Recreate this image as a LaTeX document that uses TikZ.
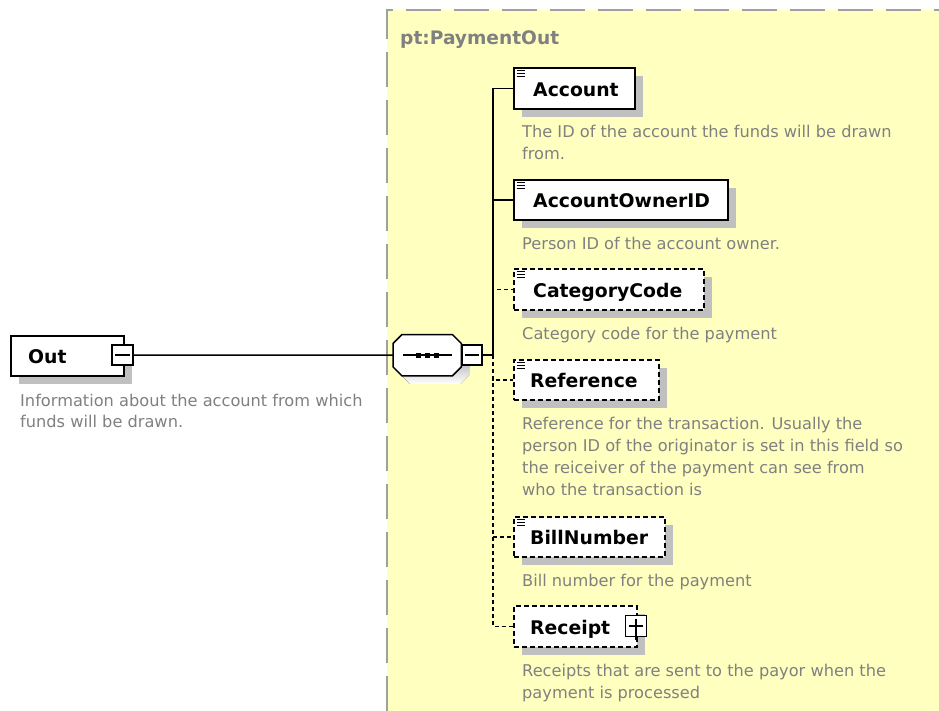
\documentclass[tikz,border=0pt]{standalone}
\usepackage{fontspec}
\setmainfont{DejaVu Sans}
\usetikzlibrary{shadows}

\definecolor{panel}{RGB}{255,255,192}
\definecolor{panelrule}{RGB}{160,160,160}
\definecolor{shade}{RGB}{192,192,192}
\definecolor{note}{RGB}{128,128,128}

\newcommand{\labelsize}{\fontsize{18.8}{20}\selectfont\bfseries}
\newcommand{\notesize}{\fontsize{16.2}{21.8}\selectfont}
\newcommand{\titlesize}{\fontsize{18.6}{20}\selectfont\bfseries}

% outline of the sequence compositor, shifted by #1
\newcommand{\seqoutline}[1]{%
  ([shift={(9+#1,#1)}]seq.north west) -- ([shift={(-9+#1,#1)}]seq.north east) --
  ([shift={(#1,9+#1)}]seq.north east) -- ([shift={(#1,-9+#1)}]seq.south east) --
  ([shift={(-9+#1,#1)}]seq.south east) -- ([shift={(9+#1,#1)}]seq.south west) --
  ([shift={(#1,-9+#1)}]seq.south west) -- ([shift={(#1,9+#1)}]seq.north west) -- cycle}

\tikzset{
  box/.style={draw=black, fill=white, line width=1.8pt, inner sep=0pt,
    anchor=north west, minimum height=41pt,
    general shadow={fill=shade, shadow xshift=8pt, shadow yshift=-8pt}},
  optbox/.style={box, dash pattern=on 5pt off 3pt},
  lbl/.style={anchor=base west, inner sep=0pt, font=\labelsize},
  % multi-line notes are anchored at the baseline of their last line
  note/.style={anchor=base west, inner sep=0pt, align=left, text=note, font=\notesize},
  conn/.style={line width=1.5pt, draw=black},
  optconn/.style={conn, dash pattern=on 4pt off 3pt},
  toggle/.style={draw=black, fill=white, line width=1.5pt, minimum width=21pt,
    minimum height=21pt, inner sep=0pt},
  typemark/.style={line width=0.9pt},
}

\begin{document}
\begin{tikzpicture}[x=1pt, y=-1pt]
\useasboundingbox (0,0) rectangle (939,711);
\fill[white] (0,0) rectangle (939,711);

% complex type panel
\fill[panel] (387,10) rectangle (939,711);
\draw[panelrule, line width=2pt, dash pattern=on 35pt off 13pt] (387,711) -- (387,10) -- (939,10);
\node[anchor=base west, inner sep=0pt, text=note, font=\titlesize] (title) at (400,45) {pt:PaymentOut};

% root element
\node[box, minimum width=113pt, minimum height=40pt] (out) at (10,335) {};
\node[lbl] (outText) at ([shift={(18,8)}]out.west) {Out};
\node[toggle, minimum height=20pt] (outToggle) at (122.5,355) {};
\draw[line width=1.5pt] ([shift={(4,0)}]outToggle.west) -- ([shift={(-4,0)}]outToggle.east);
\node[note] (outNote) at ([shift={(10,51)}]out.south west)
  {Information about the account from which\\funds will be drawn.};

% sequence compositor
\node[minimum width=68pt, minimum height=41pt, inner sep=0pt, anchor=north west] (seq) at (393,334.5) {};
\fill[shade] \seqoutline{8};
\filldraw[fill=white, draw=black, line width=1.5pt] \seqoutline{0};
\draw[line width=1.5pt] ([shift={(-24,0)}]seq.center) -- ([shift={(25,0)}]seq.center);
\foreach \dx in {-9,0,9}
  \fill ([shift={(\dx-2.7,-2.7)}]seq.center) rectangle ([shift={(\dx+2.7,2.7)}]seq.center);
\node[toggle, minimum width=20pt, minimum height=20pt] (seqToggle) at (472,355) {};
\draw[line width=1.5pt] ([shift={(4,0)}]seqToggle.west) -- ([shift={(-4,0)}]seqToggle.east);
\coordinate (junc) at (493,355);

% child elements
\node[box, minimum width=121pt] (account) at (513,67) {};
\node[box, minimum width=214pt, minimum height=40pt] (owner) at (513,179) {};
\node[optbox, minimum width=190pt] (category) at (513,268) {};
\node[optbox, minimum width=145pt, minimum height=40pt] (reference) at (513,359) {};
\node[optbox, minimum width=151pt, minimum height=40pt] (bill) at (513,516) {};
\node[optbox, minimum width=123pt] (receipt) at (513,605) {};

\foreach \n in {account, owner, category, reference, bill}
  \foreach \k in {3.5,6.5,9.5}
    \draw[typemark] ([shift={(3.5,\k)}]\n.north west) -- ++(8.5,0);

\node[lbl] (accountText) at ([shift={(20,8)}]account.west) {Account};
\node[lbl] (ownerText) at ([shift={(20,8)}]owner.west) {AccountOwnerID};
\node[lbl] (categoryText) at ([shift={(20,8)}]category.west) {CategoryCode};
\node[lbl] (referenceText) at ([shift={(17,8)}]reference.west) {Reference};
\node[lbl] (billText) at ([shift={(17,8)}]bill.west) {BillNumber};
\node[lbl] (receiptText) at ([shift={(17,8)}]receipt.west) {Receipt};

\node[toggle] (receiptToggle) at (636,626) {};
\draw[line width=1.5pt] ([shift={(4,0)}]receiptToggle.west) -- ([shift={(-4,0)}]receiptToggle.east);
\draw[line width=1.5pt] ([shift={(0,4)}]receiptToggle.north) -- ([shift={(0,3)}]receiptToggle.south);

% annotations
\node[note] (accountNote) at ([shift={(9,49.8)}]account.south west)
  {The ID of the account the funds will be drawn\\from.};
\node[note] (ownerNote) at ([shift={(9,29)}]owner.south west)
  {Person ID of the account owner.};
\node[note] (categoryNote) at ([shift={(9,29)}]category.south west)
  {Category code for the payment};
\node[note] (referenceNote) at ([shift={(9,94.4)}]reference.south west)
  {Reference for the transaction. Usually the\\person ID of the originator is set in this field so\\the reiceiver of the payment can see from\\who the transaction is};
\node[note] (billNote) at ([shift={(9,29)}]bill.south west)
  {Bill number for the payment};
\node[note] (receiptNote) at ([shift={(9,50.8)}]receipt.south west)
  {Receipts that are sent to the payor when the\\payment is processed};

% connectors
\draw[conn] (outToggle.east) -- (seq.west);
\draw[conn] (seqToggle.east) -- (junc);
\draw[optconn] (junc) |- (category.west);
\draw[optconn] (junc) |- (reference.west);
\draw[optconn] (junc) |- (bill.west);
\draw[optconn] (junc) |- (receipt.west);
\draw[conn] (junc) |- (owner.west);
\draw[conn] (junc) |- (account.west);
\end{tikzpicture}
\end{document}
